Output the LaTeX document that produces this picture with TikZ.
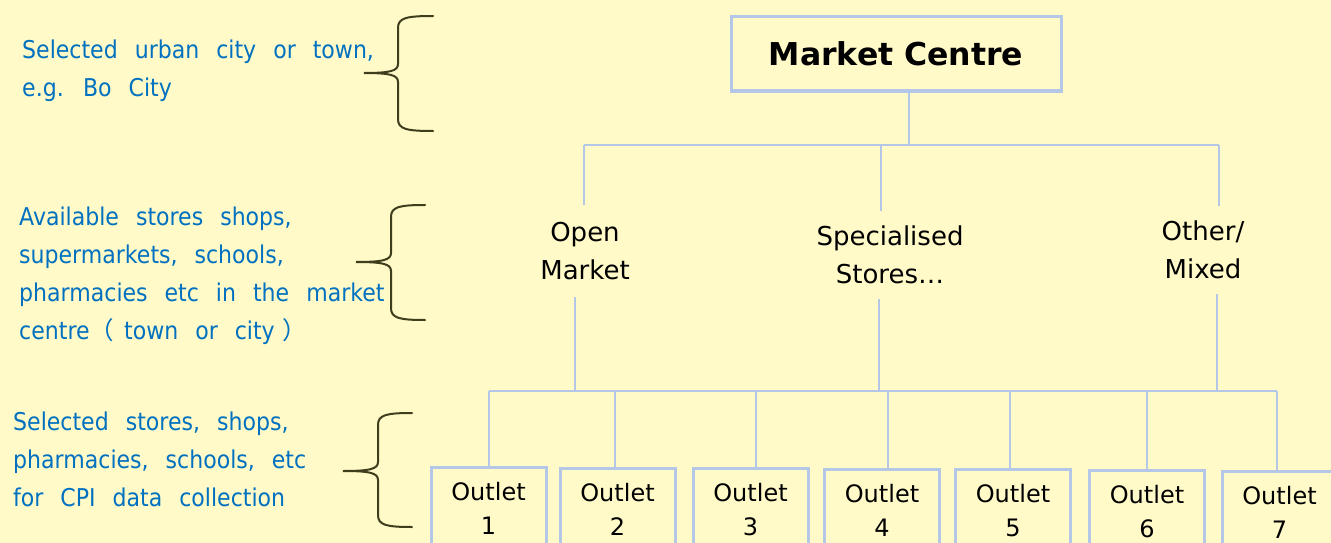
\documentclass[tikz,border=0pt]{standalone}
\usepackage{fontspec}
\setmainfont{DejaVu Sans}
\newfontfamily\bluefont{DejaVu Sans}[FakeStretch=0.9]
\newfontfamily\cjk{Noto Sans CJK SC}
\definecolor{bg}{RGB}{255,250,200}
\definecolor{boxline}{RGB}{180,199,231}
\definecolor{bluetxt}{RGB}{0,112,192}
\definecolor{bracecol}{RGB}{62,62,30}
\newcommand\notefont{\bluefont\fontsize{24.5}{38}\selectfont\fontdimen2\font=17pt\relax}
\newcommand\drawbrace[6]{%
  \draw[bracestroke] (#1,#4) .. controls (#2+8,#4) and (#2,#4+2) .. (#2,#4+12)
    -- (#2,#5-9) .. controls (#2,#5-2) and (#2-8,#5) .. (#3,#5)
    .. controls (#2-8,#5) and (#2,#5+2) .. (#2,#5+9)
    -- (#2,#6-12) .. controls (#2,#6-2) and (#2+8,#6) .. (#1,#6);}
\begin{document}
\begin{tikzpicture}[x=1pt,y=-1pt,
  conn/.style={draw=boxline, line width=2pt},
  mainbox/.style={draw=boxline, line width=3pt, minimum width=330pt, minimum height=74pt, inner sep=0pt, font=\fontsize{31.5}{36}\selectfont\bfseries},
  catlbl/.style={align=center, inner sep=0pt, minimum height=92pt, font=\fontsize{26}{38}\selectfont},
  outlet/.style={draw=boxline, line width=3pt, anchor=north, minimum width=115pt, minimum height=82pt, inner sep=0pt, align=center, font=\fontsize{24}{34}\selectfont},
  note/.style={align=left, text=bluetxt, inner sep=0pt, anchor=north west, font=\notefont},
  bracestroke/.style={draw=bracecol, line width=2pt, line cap=round}]
\useasboundingbox (0,0) rectangle (1331,543);
\clip (0,0) rectangle (1331,543);
\fill[bg] (0,0) rectangle (1331,543);

% top node
\node[mainbox] (mc) at (896,54) {Market Centre};

% category labels
\node[catlbl] (om) at (585,251) {Open\\Market};
\node[catlbl, minimum height=88pt] (ss) at (890,255) {Specialised\\Stores…};
\node[catlbl, minimum height=88pt] (ot) at (1203,250) {Other/\\Mixed};

% outlets
\node[outlet] (o1) at (488.5,466) {Outlet\\1};
\node[outlet] (o2) at (617.5,467) {Outlet\\2};
\node[outlet] (o3) at (750.5,467) {Outlet\\3};
\node[outlet] (o4) at (882,468) {Outlet\\4};
\node[outlet] (o5) at (1013,468) {Outlet\\5};
\node[outlet] (o6) at (1147,469) {Outlet\\6};
\node[outlet] (o7) at (1279.5,470) {Outlet\\7};

% upper connectors
\coordinate (tj) at (909,145);
\coordinate (tL) at (584,145);
\coordinate (tR) at (1219,145);
\coordinate (tM) at (881,145);
\draw[conn] (tj |- mc.south) -- (tj);
\draw[conn] (tL) -- (tR);
\draw[conn] (tL) -- (tL |- om.north);
\draw[conn] (tM) -- (tM |- ss.north);
\draw[conn] (tR) -- (tR |- ot.north);

% lower connectors
\coordinate (bL) at (489,391);
\coordinate (bR) at (1277,391);
\coordinate (bOM) at (575,391);
\coordinate (bSS) at (879,391);
\coordinate (bOT) at (1217,391);
\draw[conn] (bL) -- (bR);
\draw[conn] (bOM |- om.south) -- (bOM);
\draw[conn] (bSS |- ss.south) -- (bSS);
\draw[conn] (bOT |- ot.south) -- (bOT);
\foreach \n/\x in {o1/489,o2/615,o3/756,o4/888,o5/1010,o6/1147,o7/1277}
  \draw[conn] (\x,391) -- (\x,0 |- \n.north);

% notes
\node[note] (n1) at (22,39.5) {Selected urban city or town,\\e.g. Bo City};
\node[note] (n2) at (19,206.5) {Available stores shops,\\supermarkets, schools,\\pharmacies etc in the market\\centre{\cjk （}\hspace{10pt}town or city\hspace{8pt}{\cjk ）}};
\node[note] (n3) at (13,411.5) {Selected stores, shops,\\pharmacies, schools, etc\\for CPI data collection};

% braces
\drawbrace{433}{398}{364}{16}{73}{131}
\drawbrace{425}{391}{356}{205}{262}{320}
\drawbrace{412}{378}{343}{413}{471}{527}
\end{tikzpicture}
\end{document}
